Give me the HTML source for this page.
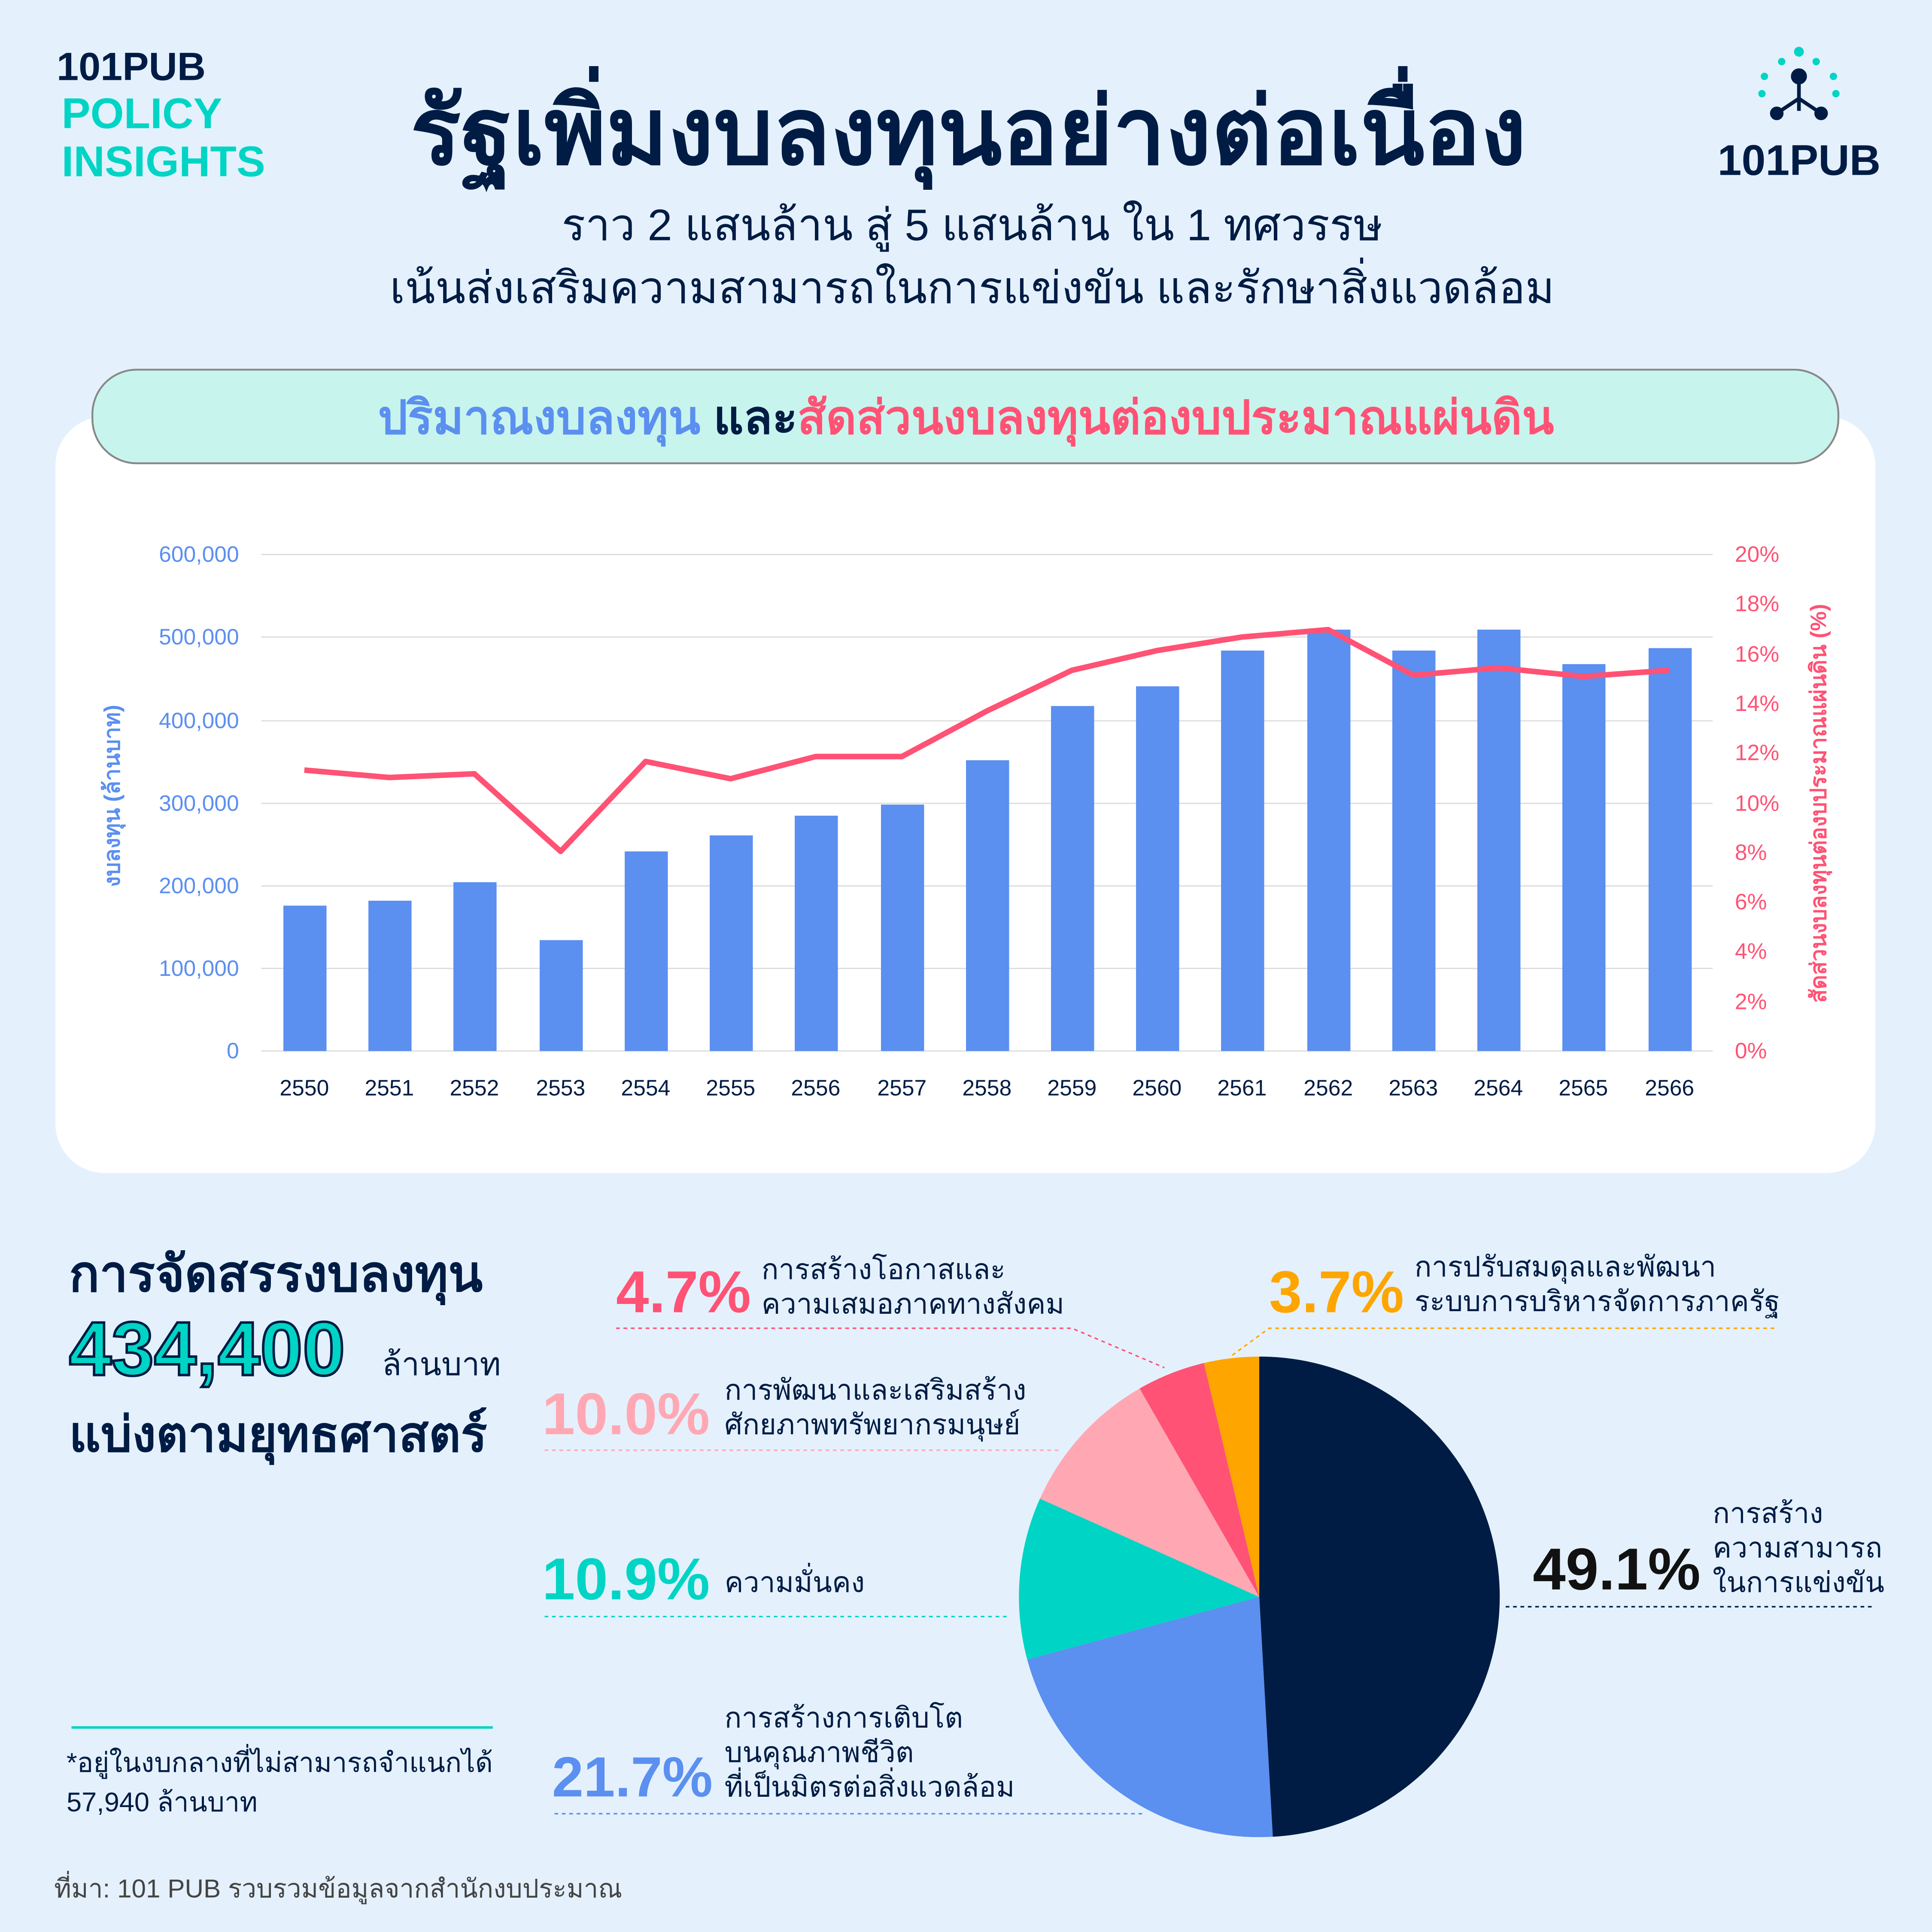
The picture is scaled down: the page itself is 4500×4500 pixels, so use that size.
<!DOCTYPE html>
<html><head><meta charset="utf-8"><style>
html,body{margin:0;padding:0;background:#e4f1fd;}
svg{display:block;font-family:"Liberation Sans","DejaVu Sans",sans-serif;}
</style></head><body>
<svg width="4500" height="4500" viewBox="0 0 1568 1568" xmlns="http://www.w3.org/2000/svg">
<rect width="1568" height="1568" fill="#e4f1fd"/>
<!-- logos -->
<text x="46" y="65" font-size="32" font-weight="bold" fill="#001c44">101PUB</text>
<text x="50" y="104" font-size="35" font-weight="bold" fill="#00d4c4">POLICY</text>
<text x="50" y="143" font-size="35" font-weight="bold" fill="#00d4c4">INSIGHTS</text>
<g fill="#00d4c4"><circle cx="1460" cy="42" r="4"/><circle cx="1446" cy="50" r="3"/><circle cx="1474" cy="50" r="3"/><circle cx="1432" cy="62" r="3"/><circle cx="1488" cy="62" r="3"/><circle cx="1430" cy="76" r="3"/><circle cx="1490" cy="76" r="3"/></g>
<g fill="#001c44" stroke="#001c44" stroke-width="3"><circle cx="1460" cy="62" r="5"/><line x1="1460" y1="62" x2="1460" y2="90"/><line x1="1460" y1="80" x2="1442" y2="92"/><line x1="1460" y1="80" x2="1478" y2="92"/><circle cx="1442" cy="92" r="4"/><circle cx="1478" cy="92" r="4"/></g>
<text x="1394" y="142" font-size="35" font-weight="bold" fill="#001c44">101PUB</text>
<!-- titles -->
<text x="786" y="133" text-anchor="middle" font-size="76" font-weight="bold" fill="#001c44">รัฐเพิ่มงบลงทุนอย่างต่อเนื่อง</text>
<text x="789" y="195" text-anchor="middle" font-size="36" fill="#001c44">ราว 2 แสนล้าน สู่ 5 แสนล้าน ใน 1 ทศวรรษ</text>
<text x="789" y="246" text-anchor="middle" font-size="36" fill="#001c44">เน้นส่งเสริมความสามารถในการแข่งขัน และรักษาสิ่งแวดล้อม</text>
<!-- card -->
<rect x="45" y="338" width="1477" height="614" rx="40" fill="#fff"/>
<rect x="75" y="300" width="1417" height="76" rx="36" fill="#c8f4ee" stroke="#888" stroke-width="1.5"/>
<text x="784" y="352" text-anchor="middle" font-size="38" font-weight="bold"><tspan fill="#5b8ff0">ปริมาณงบลงทุน </tspan><tspan fill="#001c44">และ</tspan><tspan fill="#ff5274">สัดส่วนงบลงทุนต่องบประมาณแผ่นดิน</tspan></text>
<!-- grid -->
<g stroke="#dcdcdc" stroke-width="1">
<line x1="212" y1="450" x2="1390" y2="450"/><line x1="212" y1="517" x2="1390" y2="517"/><line x1="212" y1="585" x2="1390" y2="585"/><line x1="212" y1="652" x2="1390" y2="652"/><line x1="212" y1="719" x2="1390" y2="719"/><line x1="212" y1="786" x2="1390" y2="786"/><line x1="212" y1="853" x2="1390" y2="853"/>
</g>
<g font-size="18" fill="#5b8ff0" text-anchor="end">
<text x="194" y="456">600,000</text><text x="194" y="523">500,000</text><text x="194" y="591">400,000</text><text x="194" y="658">300,000</text><text x="194" y="725">200,000</text><text x="194" y="792">100,000</text><text x="194" y="859">0</text>
</g>
<g font-size="18" fill="#ff5274">
<text x="1408" y="456">20%</text><text x="1408" y="496">18%</text><text x="1408" y="537">16%</text><text x="1408" y="577">14%</text><text x="1408" y="617">12%</text><text x="1408" y="658">10%</text><text x="1408" y="698">8%</text><text x="1408" y="738">6%</text><text x="1408" y="778">4%</text><text x="1408" y="819">2%</text><text x="1408" y="859">0%</text>
</g>
<text transform="translate(97,646) rotate(-90)" text-anchor="middle" font-size="18" font-weight="bold" fill="#5b8ff0">งบลงทุน (ล้านบาท)</text>
<text transform="translate(1482,652) rotate(-90)" text-anchor="middle" font-size="18" font-weight="bold" fill="#ff5274">สัดส่วนงบลงทุนต่องบประมาณแผ่นดิน (%)</text>
<g fill="#5b8ff0">
<rect x="230" y="735" width="35" height="118"/><rect x="299" y="731" width="35" height="122"/><rect x="368" y="716" width="35" height="137"/><rect x="438" y="763" width="35" height="90"/><rect x="507" y="691" width="35" height="162"/><rect x="576" y="678" width="35" height="175"/><rect x="645" y="662" width="35" height="191"/><rect x="715" y="653" width="35" height="200"/><rect x="784" y="617" width="35" height="236"/><rect x="853" y="573" width="35" height="280"/><rect x="922" y="557" width="35" height="296"/><rect x="991" y="528" width="35" height="325"/><rect x="1061" y="511" width="35" height="342"/><rect x="1130" y="528" width="35" height="325"/><rect x="1199" y="511" width="35" height="342"/><rect x="1268" y="539" width="35" height="314"/><rect x="1338" y="526" width="35" height="327"/>
</g>
<polyline fill="none" stroke="#ff5274" stroke-width="4.5" stroke-linejoin="round" points="247,625 316,631 385,628 455,691 524,618 593,632 662,614 732,614 801,577 870,544 939,528 1008,517 1078,511 1147,548 1216,542 1285,549 1355,544"/>
<g font-size="18" fill="#001c44" text-anchor="middle">
<text x="247" y="889">2550</text><text x="316" y="889">2551</text><text x="385" y="889">2552</text><text x="455" y="889">2553</text><text x="524" y="889">2554</text><text x="593" y="889">2555</text><text x="662" y="889">2556</text><text x="732" y="889">2557</text><text x="801" y="889">2558</text><text x="870" y="889">2559</text><text x="939" y="889">2560</text><text x="1008" y="889">2561</text><text x="1078" y="889">2562</text><text x="1147" y="889">2563</text><text x="1216" y="889">2564</text><text x="1285" y="889">2565</text><text x="1355" y="889">2566</text>
</g>
<!-- left text -->
<text x="56" y="1048" font-size="41" font-weight="bold" fill="#001c44">การจัดสรรงบลงทุน</text>
<text x="56" y="1116" font-size="62" font-weight="bold" fill="#00d4c4" stroke="#001c44" stroke-width="2">434,400</text>
<text x="310" y="1116" font-size="26" fill="#001c44">ล้านบาท</text>
<text x="56" y="1178" font-size="40" font-weight="bold" fill="#001c44">แบ่งตามยุทธศาสตร์</text>
<line x1="58" y1="1402" x2="400" y2="1402" stroke="#00d4c4" stroke-width="2"/>
<text x="54" y="1438" font-size="22" fill="#001c44">*อยู่ในงบกลางที่ไม่สามารถจำแนกได้</text>
<text x="54" y="1470" font-size="22" fill="#001c44">57,940 ล้านบาท</text>
<text x="44" y="1540" font-size="21" fill="#444">ที่มา: 101 PUB รวบรวมข้อมูลจากสำนักงบประมาณ</text>
<!-- pie -->
<path d="M1022,1296 L1022,1101 A195,195 0 0,1 1033,1490.7 Z" fill="#001c44"/>
<path d="M1022,1296 L1033,1490.7 A195,195 0 0,1 833.7,1346.9 Z" fill="#5b8ff0"/>
<path d="M1022,1296 L833.7,1346.9 A195,195 0 0,1 844,1216.3 Z" fill="#00d4c4"/>
<path d="M1022,1296 L844,1216.3 A195,195 0 0,1 924.9,1126.9 Z" fill="#ffa8b4"/>
<path d="M1022,1296 L924.9,1126.9 A195,195 0 0,1 977.1,1106.2 Z" fill="#ff5274"/>
<path d="M1022,1296 L977.1,1106.2 A195,195 0 0,1 1022,1101 Z" fill="#ffa500"/>
<!-- pie labels -->
<g stroke-dasharray="3,3" stroke-width="1.2" fill="none">
<polyline points="500,1078 870,1078 945,1110" stroke="#ff5274"/>
<polyline points="1440,1078 1030,1078 1000,1100" stroke="#ffa500"/>
<polyline points="442,1177 860,1177" stroke="#ffa8b4"/>
<polyline points="442,1312 820,1312" stroke="#00d4c4"/>
<polyline points="450,1472 930,1472" stroke="#5b8ff0"/>
<polyline points="1222,1304 1522,1304" stroke="#001c44"/>
</g>
<text x="500" y="1065" font-size="48" font-weight="bold" fill="#ff5274">4.7%</text>
<text x="618" y="1038" font-size="23" fill="#001c44">การสร้างโอกาสและ</text>
<text x="618" y="1066" font-size="23" fill="#001c44">ความเสมอภาคทางสังคม</text>
<text x="1030" y="1065" font-size="48" font-weight="bold" fill="#ffa500">3.7%</text>
<text x="1148" y="1036" font-size="23" fill="#001c44">การปรับสมดุลและพัฒนา</text>
<text x="1148" y="1064" font-size="23" fill="#001c44">ระบบการบริหารจัดการภาครัฐ</text>
<text x="440" y="1164" font-size="48" font-weight="bold" fill="#ffa8b4">10.0%</text>
<text x="588" y="1136" font-size="23" fill="#001c44">การพัฒนาและเสริมสร้าง</text>
<text x="588" y="1164" font-size="23" fill="#001c44">ศักยภาพทรัพยากรมนุษย์</text>
<text x="440" y="1298" font-size="48" font-weight="bold" fill="#00d4c4">10.9%</text>
<text x="588" y="1292" font-size="23" fill="#001c44">ความมั่นคง</text>
<text x="448" y="1458" font-size="46" font-weight="bold" fill="#5b8ff0">21.7%</text>
<text x="588" y="1402" font-size="23" fill="#001c44">การสร้างการเติบโต</text>
<text x="588" y="1430" font-size="23" fill="#001c44">บนคุณภาพชีวิต</text>
<text x="588" y="1458" font-size="23" fill="#001c44">ที่เป็นมิตรต่อสิ่งแวดล้อม</text>
<text x="1244" y="1290" font-size="48" font-weight="bold" fill="#111">49.1%</text>
<text x="1390" y="1236" font-size="23" fill="#001c44">การสร้าง</text>
<text x="1390" y="1264" font-size="23" fill="#001c44">ความสามารถ</text>
<text x="1390" y="1292" font-size="23" fill="#001c44">ในการแข่งขัน</text>
</svg>
</body></html>
